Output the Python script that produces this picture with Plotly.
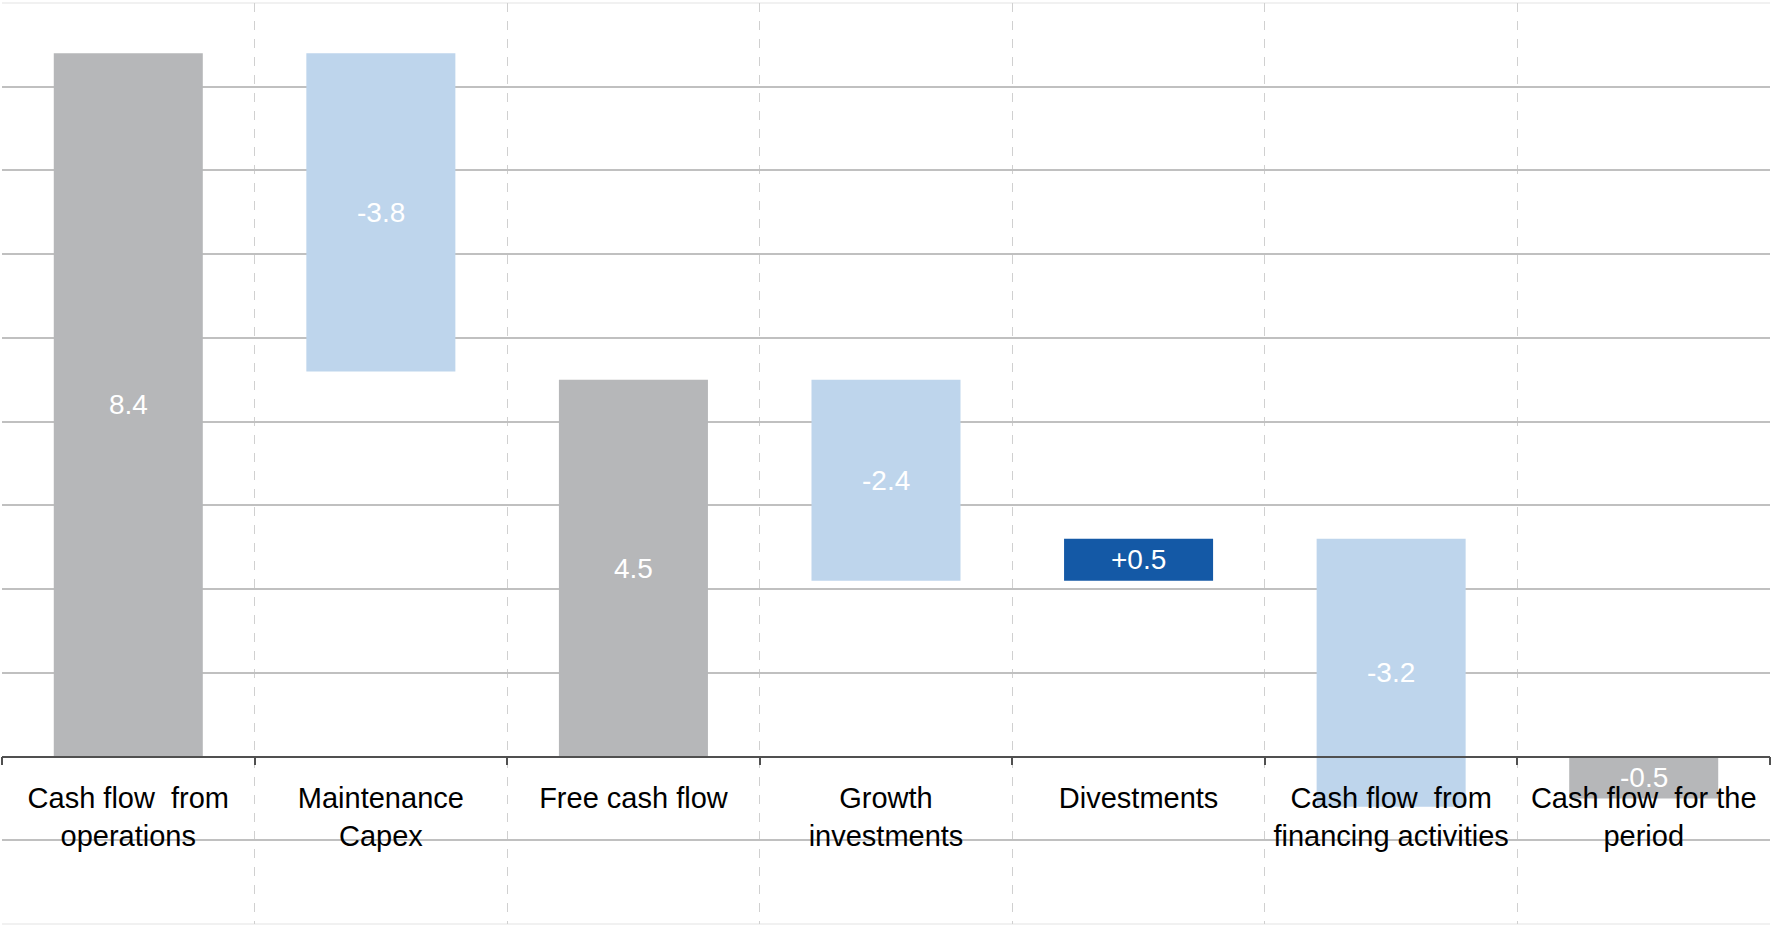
import plotly.graph_objects as go

categories = [
    "Cash flow  from<br>operations",
    "Maintenance<br>Capex",
    "Free cash flow",
    "Growth<br>investments",
    "Divestments",
    "Cash flow  from<br>financing activities",
    "Cash flow  for the<br>period",
]
values = [8.4, -3.8, 4.5, -2.4, 0.5, -3.2, -0.5]
kinds = ["total", "delta", "total", "delta", "delta", "delta", "total"]

color_total = "#b6b7b9"
color_neg = "#bed5ec"
color_pos = "#1459a6"

bases, colors, labels = [], [], []
running = 0.0
for v, k in zip(values, kinds):
    if k == "total":
        bases.append(0.0)
        running = v
        colors.append(color_total)
        labels.append(f"{v:.1f}")
    else:
        bases.append(running)
        running = running + v
        colors.append(color_pos if v > 0 else color_neg)
        labels.append(f"{v:+.1f}")

fig = go.Figure(
    go.Bar(
        x=categories,
        y=values,
        base=bases,
        width=0.59,
        marker=dict(color=colors, line=dict(width=0)),
        hoverinfo="skip",
    )
)

# value labels centred in each bar (annotations so they sit above axis labels)
annotations = []
for cat, b, v, lab in zip(categories, bases, values, labels):
    annotations.append(dict(
        x=cat, y=b + v / 2, xref="x", yref="y",
        text=lab, showarrow=False, xanchor="center", yanchor="middle",
        font=dict(color="white", size=28, family="Liberation Sans, Arial"),
    ))

ymin, ymax = -2, 9
fig.update_layout(
    width=1771,
    height=926,
    margin=dict(l=2, r=1, t=3, b=2, autoexpand=False),
    paper_bgcolor="white",
    plot_bgcolor="white",
    showlegend=False,
    font=dict(family="Liberation Sans, Arial", color="black"),
    annotations=annotations,
    xaxis=dict(
        type="category",
        range=[-0.5, 6.5],
        tickson="boundaries",
        ticks="outside",
        ticklen=8,
        tickcolor="#505050",
        tickwidth=1.5,
        showline=True,
        linecolor="#505050",
        linewidth=1.5,
        showgrid=True,
        gridcolor="#d0d0d0",
        griddash="dash",
        gridwidth=1,
        anchor="free",
        position=(0 - ymin) / (ymax - ymin),
        ticklabelstandoff=16,
        tickfont=dict(size=29, color="black", family="Liberation Sans, Arial"),
        automargin=False,
        fixedrange=True,
    ),
    yaxis=dict(
        range=[ymin, ymax],
        tickvals=[-1, 1, 2, 3, 4, 5, 6, 7, 8],
        showticklabels=False,
        showgrid=True,
        gridcolor="#c0c0c0",
        gridwidth=2,
        zeroline=False,
        showline=False,
        automargin=False,
        fixedrange=True,
    ),
    shapes=[
        dict(type="line", xref="paper", yref="paper", x0=0, x1=1, y0=1, y1=1,
             line=dict(color="#ececec", width=1.5), layer="below"),
        dict(type="line", xref="paper", yref="paper", x0=0, x1=1, y0=0, y1=0,
             line=dict(color="#ececec", width=1.5), layer="below"),
    ],
)

fig.write_html(
    "out.html",
    config={"displayModeBar": False},
    post_script="document.body.style.margin='0';document.body.style.overflow='hidden';",
)
